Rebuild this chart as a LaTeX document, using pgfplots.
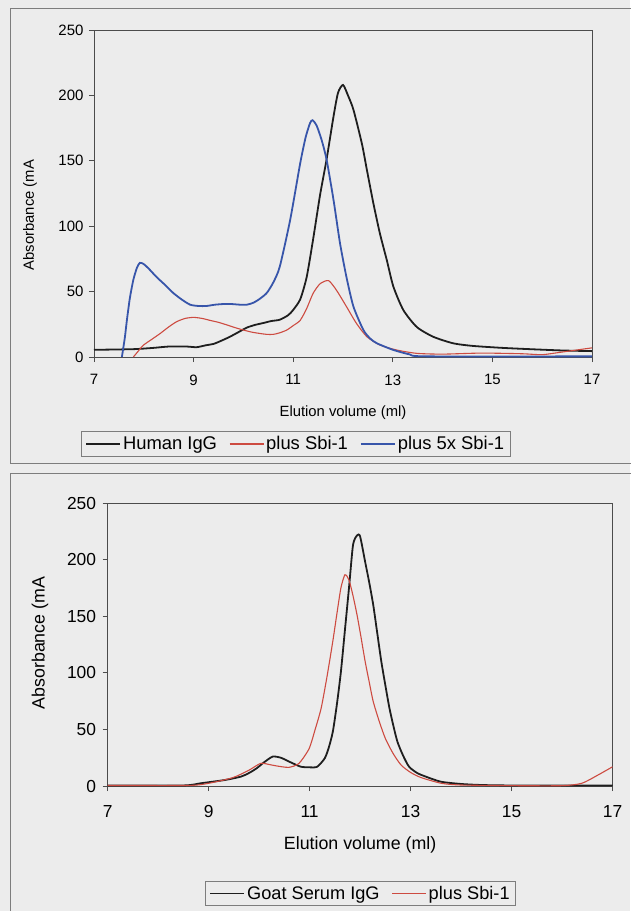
\documentclass[border=0pt]{standalone}
\usepackage{fontspec}
\setmainfont{Liberation Sans}
\usepackage{pgfplots}
\pgfplotsset{compat=1.18}

\definecolor{bg}{RGB}{236,236,236}
\definecolor{frm}{RGB}{125,125,125}
\definecolor{cblack}{RGB}{30,30,30}
\definecolor{cred}{RGB}{205,75,65}
\definecolor{cblue}{RGB}{55,85,170}

\pgfplotsset{
  chrom/.style={
    scale only axis,
    xmin=7, xmax=17, ymin=0, ymax=250,
    xtick={7,9,...,17}, ytick={0,50,...,250},
    tick align=outside, tick pos=left,
    major tick length=5pt,
    axis line style={frm, line width=0.9pt},
    x axis line style={black!70},
    y axis line style={black!70},
    tick style={black!70, line width=0.9pt},
    /pgf/number format/assume math mode=true,
    legend columns=-1,
    legend cell align=left,
    legend image code/.code={\draw[##1] (0pt,0pt) -- (34pt,0pt);},
    legend style={draw=frm, fill=bg, line width=0.9pt, inner xsep=4pt, inner ysep=3pt,
      /tikz/every even column/.append style={column sep=10pt},
      nodes={inner xsep=2pt}},
  },
  blk/.style={cblack, line width=1.8pt, smooth, tension=0.4},
  red/.style={cred, line width=1.1pt, smooth, tension=0.4},
  blu/.style={cblue, line width=1.8pt, smooth, tension=0.4},
}

\begin{document}
\begin{tikzpicture}
\useasboundingbox (0pt,0pt) rectangle (630pt,-911pt);
\fill[bg] (0pt,0pt) rectangle (630pt,-911pt);
\draw[frm, line width=1pt] (10pt,-8pt) rectangle (650pt,-463pt);
\draw[frm, line width=1pt] (10pt,-473pt) rectangle (650pt,-930pt);

% top panel: human IgG
\begin{axis}[chrom,
  at={(94pt,-357pt)}, anchor=south west,
  width=498pt, height=327pt,
  tick label style={font=\fontsize{15}{17}\selectfont},
  xticklabel style={yshift=-9pt},
  yticklabel style={xshift=-2pt},
  xlabel={Elution volume (ml)}, ylabel={Absorbance (mA},
  label style={font=\fontsize{14.8}{16}\selectfont},
  xlabel style={at={(axis description cs:0.5,-0.171)}, anchor=center},
  ylabel style={at={(axis description cs:-0.1285,0.434)}, anchor=center},
  legend style={at={(0.405,-0.266)}, anchor=center, font=\fontsize{18.4}{20}\selectfont},
]
\addplot[blk] coordinates {
(7,5.5) (7.79,6) (8.2,7) (8.5,8) (8.86,8) (9.06,7.5) (9.25,9) (9.4,10) (9.56,12.5)
(9.73,15.5) (9.9,19) (10.07,22.5) (10.23,24.5) (10.4,26) (10.56,27.5) (10.73,28.5)
(10.9,32) (11.0,36) (11.14,44) (11.27,61) (11.40,90) (11.54,124) (11.67,151)
(11.81,184) (11.9,202) (12.0,208) (12.1,200) (12.21,189) (12.38,163) (12.48,143)
(12.61,117.5) (12.74,94.6) (12.88,74) (13.01,54) (13.21,36) (13.48,23) (13.81,15.5)
(14.21,10.5) (14.6,8.5) (15.19,7) (15.75,6) (16.4,5) (17,4.5)
};
\addlegendentry{Human IgG}
\addplot[red] coordinates {
(7.79,0) (7.9,5) (7.99,9) (8.16,13.5) (8.33,18) (8.5,23) (8.66,27) (8.83,29.5)
(9.0,30.3) (9.17,29.5) (9.33,28) (9.5,26.5) (9.67,24.5) (9.83,22.5) (10.0,20.6)
(10.17,19) (10.33,18) (10.47,17.3) (10.6,17.3) (10.73,18.5) (10.87,20.6) (11.0,24)
(11.14,28) (11.27,37) (11.40,48.7) (11.54,56) (11.71,58.4) (11.87,51) (12.07,38.5)
(12.27,25.7) (12.48,15.5) (12.74,9.2) (13.07,5.4) (13.48,2.8) (14.0,2.2) (14.78,3)
(15.59,2.5) (16.0,1.8) (16.4,3.8) (17,7)
};
\addlegendentry{plus Sbi-1}
\addplot[blu] coordinates {
(7.56,0) (7.62,15) (7.66,28) (7.72,45) (7.79,59) (7.86,68) (7.92,72) (8.0,71)
(8.1,67.5) (8.26,61) (8.43,55) (8.59,49) (8.76,44) (8.93,40) (9.1,39) (9.26,39)
(9.43,40) (9.6,40.5) (9.76,40.5) (9.93,40) (10.07,40) (10.2,41.5) (10.33,44.5)
(10.47,49) (10.6,57) (10.73,69) (10.94,105) (11.14,148) (11.25,168) (11.34,179)
(11.39,181) (11.47,177) (11.57,166) (11.67,151) (11.81,120) (11.94,87) (12.07,61)
(12.21,38.5) (12.41,20.6) (12.55,14) (12.68,10.5) (13.01,5.4) (13.34,2) (13.68,0.5)
(17,0.5)
};
\addlegendentry{plus 5x Sbi-1}
\end{axis}

% bottom panel: goat serum IgG
\begin{axis}[chrom,
  at={(107.6pt,-786pt)}, anchor=south west,
  width=505pt, height=283pt,
  tick label style={font=\fontsize{17.4}{19}\selectfont},
  xticklabel style={yshift=-11pt},
  yticklabel style={xshift=-3pt},
  xlabel={Elution volume (ml)}, ylabel={Absorbance (mA},
  label style={font=\fontsize{17.8}{19}\selectfont},
  xlabel style={at={(axis description cs:0.5,-0.2085)}, anchor=center},
  ylabel style={at={(axis description cs:-0.134,0.505)}, anchor=center},
  legend style={at={(0.5008,-0.38)}, anchor=center, font=\fontsize{18.2}{20}\selectfont},
]
\addplot[blk] coordinates {
(7,0.5) (8.5,0.5) (8.84,2.4) (9.32,5.3) (9.64,8.3) (9.8,11.5) (9.95,15.6) (10.1,21)
(10.27,26) (10.43,25) (10.55,22.5) (10.67,20) (10.83,17) (11.0,16.5) (11.15,17)
(11.3,24.5) (11.38,34) (11.46,48) (11.54,72) (11.62,101) (11.7,138) (11.78,175)
(11.86,213) (11.94,221.4) (12.0,220.5) (12.1,198) (12.18,180) (12.26,160) (12.34,135)
(12.42,110) (12.5,89) (12.58,69) (12.66,53) (12.74,39) (12.85,27) (12.97,17)
(13.13,11.5) (13.3,8.3) (13.6,3.8) (14.0,1.8) (14.4,0.9) (15,0.5) (17,0.5)
};
\addlegendentry{Goat Serum IgG}
\addplot[red] coordinates {
(7,0.5) (8.6,0.5) (9.0,2.4) (9.48,7.4) (9.8,14) (10.03,20) (10.2,19) (10.35,17.7)
(10.59,16.5) (10.79,20) (10.99,33) (11.11,50) (11.23,69) (11.35,98) (11.46,128)
(11.54,152) (11.62,175) (11.70,186.6) (11.78,182) (11.86,168) (11.94,151) (12.02,131)
(12.1,110) (12.18,92) (12.26,74.6) (12.38,57) (12.5,42) (12.65,29) (12.81,18.6)
(13.0,12) (13.21,7.4) (13.61,2.4) (14.0,0.9) (15.04,0.3) (16.0,0.3) (16.39,2.4)
(16.71,9.7) (17,17)
};
\addlegendentry{plus Sbi-1}
\end{axis}
\end{tikzpicture}
\end{document}
